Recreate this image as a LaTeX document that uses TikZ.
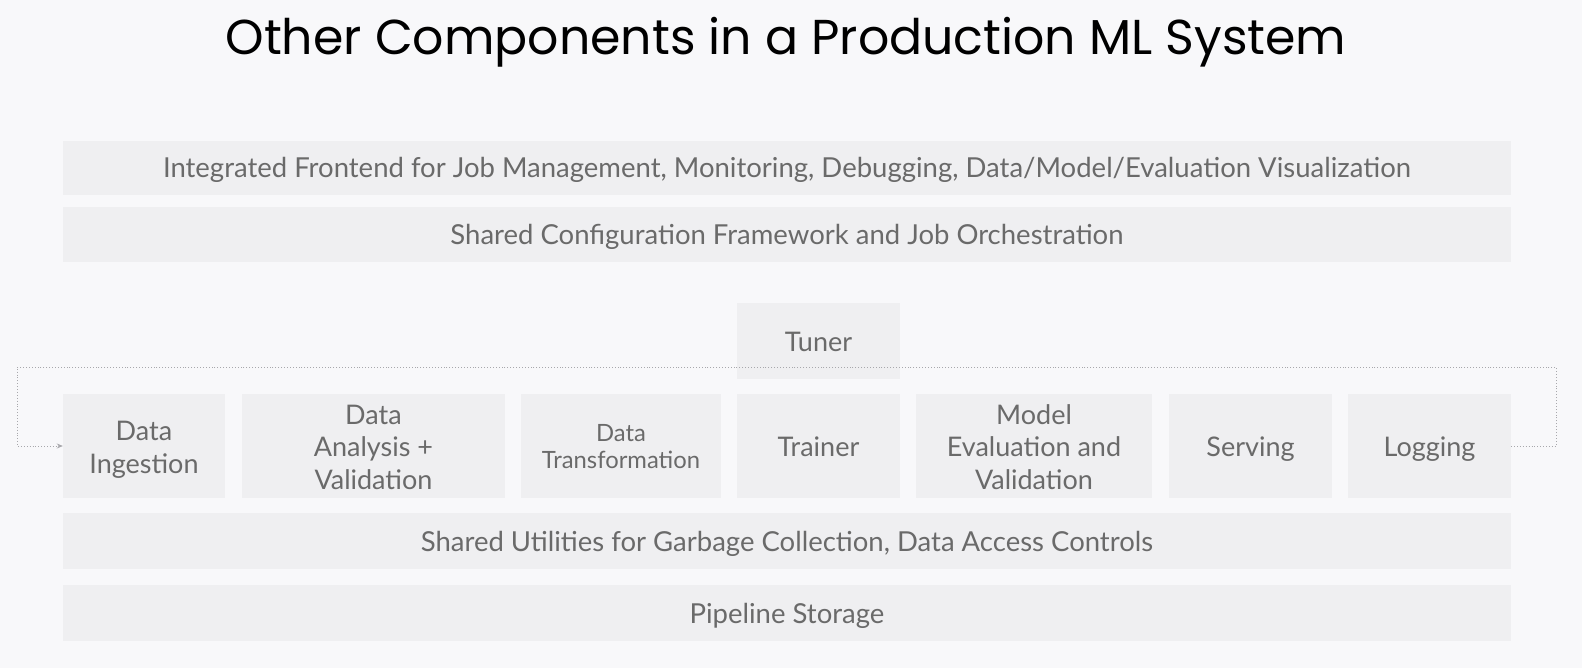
\documentclass[tikz,border=0pt]{standalone}
\usepackage{fontspec}
\setmainfont{Lato}
\newfontfamily\titlefont{Poppins}
\usetikzlibrary{arrows.meta}
\definecolor{bgc}{HTML}{F8F8FA}
\definecolor{boxc}{HTML}{EFEFF1}
\definecolor{txtc}{HTML}{6A6A6A}
\definecolor{linec}{HTML}{A8A8AC}
\newcommand\bigstrut{\rule[-6pt]{0pt}{32pt}}
\newcommand\topstrut{\rule{0pt}{27.5pt}}
\newcommand\botstrut{\rule[-6pt]{0pt}{6pt}}
\newcommand\stopstrut{\rule{0pt}{22.5pt}}
\newcommand\sbotstrut{\rule[-4pt]{0pt}{4pt}}
\tikzset{
  blk/.style={fill=boxc, draw=none, inner sep=0pt, text=txtc, align=center,
    font=\fontsize{27}{32.5}\selectfont,
    execute at begin node=\bigstrut, execute at end node=\bigstrut},
  multiblk/.style={fill=boxc, draw=none, inner sep=0pt, text=txtc, align=center,
    font=\fontsize{27}{32.5}\selectfont},
  bar/.style={blk, minimum width=1448pt, font=\fontsize{27.5}{32.5}\selectfont},
  smallblk/.style={fill=boxc, draw=none, inner sep=0pt, text=txtc, align=center,
    font=\fontsize{23.8}{26.7}\selectfont},
  conn/.style={draw=linec, line width=0.9pt, dotted},
}
\begin{document}
\begin{tikzpicture}[x=1pt,y=-1pt]
\fill[bgc] (0,0) rectangle (1582,668);
\useasboundingbox (0,0) rectangle (1582,668);
\node[text=black, font=\titlefont\fontsize{49}{60}\selectfont] (title) at (786,42) {Other Components in a Production ML System};
% bars
\node[bar, minimum height=54pt] (front) at (787,168) {Integrated Frontend for Job Management, Monitoring, Debugging, Data/Model/Evaluation Visualization};
\node[bar, minimum height=55pt] (config) at (787,234.5) {Shared Configuration Framework and Job Orchestration};
\node[bar, minimum height=56pt] (util) at (787,541) {Shared Utilities for Garbage Collection, Data Access Controls};
\node[bar, minimum height=56pt] (store) at (787,613) {Pipeline Storage};
% tuner
\node[blk, minimum width=163pt, minimum height=76pt] (tuner) at (818.5,341) {Tuner};
% row
\node[multiblk, minimum width=162pt, minimum height=104pt] (ing) at (144,446) {\topstrut Data\\Ingestion\botstrut};
\node[multiblk, minimum width=263pt, minimum height=104pt] (ana) at (373.5,446) {\topstrut Data\\Analysis +\\Validation\botstrut};
\node[smallblk, minimum width=200pt, minimum height=104pt] (trans) at (621,446) {\stopstrut Data\\Transformation\sbotstrut};
\node[blk, minimum width=163pt, minimum height=104pt] (train) at (818.5,446) {Trainer};
\node[multiblk, minimum width=236pt, minimum height=104pt] (eval) at (1034,446) {\topstrut Model\\Evaluation and\\Validation\botstrut};
\node[blk, minimum width=163pt, minimum height=104pt] (serve) at (1250.5,446) {Serving};
\node[blk, minimum width=163pt, minimum height=104pt] (log) at (1429.5,446) {Logging};
% feedback loop
\coordinate (r1) at (1556,446);
\coordinate (r2) at (1556,367);
\coordinate (l2) at (17,367);
\coordinate (l1) at (17,446);
\draw[conn, -{Stealth[length=6pt,width=5pt]}] (log.east) -- (r1) -- (r2) -- (l2) -- (l1) -- (ing.west);
\end{tikzpicture}
\end{document}
